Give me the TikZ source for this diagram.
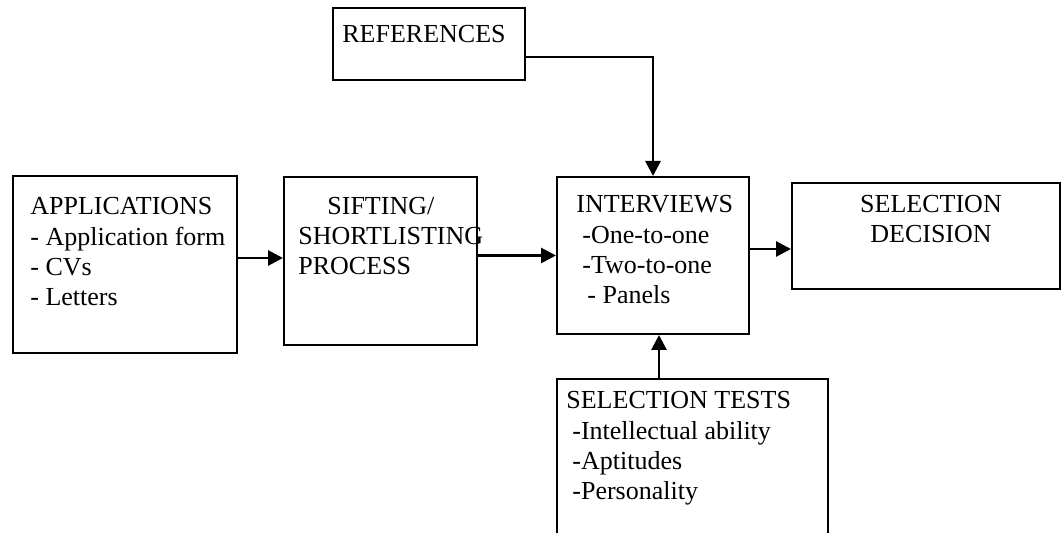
\documentclass[tikz,border=0pt]{standalone}
\usepackage{fontspec}
\setmainfont{Liberation Serif}
\usetikzlibrary{arrows.meta, positioning, calc}

\begin{document}
\begin{tikzpicture}[x=0.5pt, y=-0.5pt,
  box/.style={draw, line width=1pt, inner sep=0pt},
  txt/.style={inner sep=0pt, align=left, anchor=base west, font=\fontsize{13}{15.2}\selectfont},
  arrow/.style={-{Triangle[length=7.5pt, width=7.5pt]}, line width=1.4pt}
]
  \useasboundingbox (0,0) rectangle (1061,533);
  \clip (0,0) rectangle (1061,533);
  \node[box, minimum width=112pt, minimum height=88.5pt] (apps) at (125,264.5) {};
  \node[box, minimum width=96.5pt, minimum height=84pt] (sift) at (380.5,261) {};
  \node[box, minimum width=96pt, minimum height=78.5pt] (ints) at (653,255.5) {};
  \node[box, minimum width=134pt, minimum height=53pt] (dec) at (926,236) {};
  \node[box, minimum width=96pt, minimum height=36pt] (refs) at (429,44) {};
  \node[box, minimum width=135.5pt, minimum height=100pt] (tests) at (692.5,479) {};

  \node[txt] (appstxt) at (30,306) {APPLICATIONS\\- Application form\\- CVs\\- Letters};
  \node[txt] (sifttxt) at (298,275) {\hspace*{14.5pt}SIFTING/\\SHORTLISTING\\PROCESS};
  \node[txt] (intstxt) at (576,304) {INTERVIEWS\\\hspace*{3pt}-One-to-one\\\hspace*{3pt}-Two-to-one\\\hspace*{5.5pt}- Panels};
  \node[txt, align=center, anchor=base] (dectxt) at (931,243) {SELECTION\\DECISION};
  \node[txt] (refstxt) at (342,43) {REFERENCES};
  \node[txt] (teststxt) at (566,500) {SELECTION TESTS\\\hspace*{3pt}-Intellectual ability\\\hspace*{3pt}-Aptitudes\\\hspace*{3pt}-Personality};

  \draw[arrow] (apps.east |- 0,258) -- (sift.west |- 0,258);
  \draw[arrow] (sift.east |- ints.west) -- (ints.west);
  \draw[arrow] (ints.east |- 0,249) -- (dec.west |- 0,249);
  \draw[arrow] (refs.east |- 0,57) -| (ints.north);
  \draw[arrow] (tests.north -| 659,0) -- (ints.south -| 659,0);
\end{tikzpicture}
\end{document}
